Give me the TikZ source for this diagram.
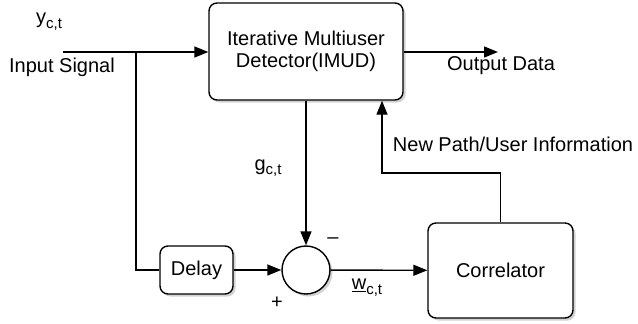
\documentclass[tikz,border=0pt]{standalone}
\usepackage{fontspec}
\setmainfont{Liberation Sans}
\usetikzlibrary{arrows.meta,shadows}
\newcommand{\subtxt}[1]{\raisebox{-0.45ex}{\fontsize{15}{15}\selectfont #1}}
\begin{document}
\begin{tikzpicture}[x=1pt,y=-1pt, line width=1.4pt, >={Triangle[length=14pt,width=11pt]},
  box/.style={draw, rounded corners=8pt, fill=white, align=center,
    font=\fontsize{20}{22}\selectfont,
    drop shadow={shadow xshift=2.5pt,shadow yshift=-2.5pt,opacity=0.35}, inner sep=0pt},
  lbl/.style={font=\fontsize{20}{22}\selectfont, inner sep=0pt}]
\useasboundingbox (0,0) rectangle (638,324);
% blocks
\node[box, minimum width=194pt, minimum height=97pt] (imud) at (306,51.5) {};
\node[lbl, align=center] (imudtxt) at (306,51) {Iterative Multiuser\\Detector(IMUD)};
\node[box, minimum width=73pt, minimum height=48pt] (delay) at (196.5,270) {Delay};
\node[draw, circle, fill=white, minimum size=48pt, inner sep=0pt,
  drop shadow={shadow xshift=2.5pt,shadow yshift=-2.5pt,opacity=0.35}] (sum) at (306,270) {};
\node[box, minimum width=145pt, minimum height=95pt] (corr) at (500.5,270.5) {Correlator};
% coordinates
\coordinate (in) at (63,52);
\coordinate (br) at (136,52);
\coordinate (out) at (498,52);
\coordinate (fb) at (382,173);
% connectors
\draw[->] (in) -- (in -| imud.west);
\draw (br) |- (delay.west);
\draw[->] (delay) -- (sum);
\draw[->] (imud) -- (sum);
\draw[->] (sum) -- (corr);
\draw[->] (out -| imud.east) -- (out);
\draw[->] (corr.north) |- (fb) -- (fb |- imud.south);
% labels
\node[lbl] (ylbl) at (49,22) {y\subtxt{c,t}};
\node[lbl] (inlbl) at (62,67) {Input Signal};
\node[lbl] (outlbl) at (501,66) {Output Data};
\node[lbl] (glbl) at (268,168) {g\subtxt{c,t}};
\node[lbl] (newlbl) at (513,144) {New Path/User Information};
\node[lbl] (minus) at (333,241) {\textendash};
\node[lbl] (plus) at (277,303) {+};
\node[lbl] (wlbl) at (367,288) {\underline{w}\subtxt{c,t}};
\end{tikzpicture}
\end{document}
